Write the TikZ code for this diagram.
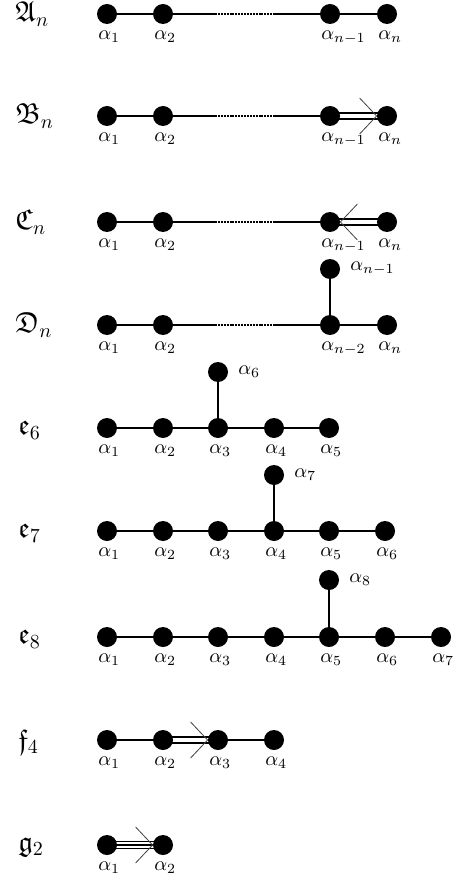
\documentclass[tikz,border=0pt]{standalone}
\usepackage{amssymb}
\usetikzlibrary{backgrounds}
\begin{document}
\begin{tikzpicture}[x=0.5pt,y=-0.5pt,
  dot/.style={circle,fill=black,inner sep=0pt,minimum size=10pt},
  edge/.style={line width=0.9pt},
  dbl/.style={line width=0.8pt,double=white,double distance=2pt},
  dotseg/.style={line width=1pt,dash pattern=on 1pt off 0.45pt},
  chev/.style={line width=0.4pt,black!75},
  lab/.style={anchor=north west,inner sep=0pt},
  rlab/.style={anchor=west,inner sep=0pt},
  ttl/.style={anchor=west,inner sep=0pt,font=\Large}]
\useasboundingbox (0,0) rectangle (454,877);
% ---------- A_n ----------
\node[ttl] (tA) at (15,14) {$\mathfrak{A}_n$};
\node[dot] (A1) at (107,14) {};
\node[dot] (A2) at (163,14) {};
\node[dot] (A3) at (330,14) {};
\node[dot] (A4) at (387,14) {};
\coordinate (Ad1) at (215,14);
\coordinate (Ad2) at (275,14);
\node[lab] at ([shift={(-9,16)}]A1.center) {$\alpha_1$};
\node[lab] at ([shift={(-9,16)}]A2.center) {$\alpha_2$};
\node[lab] at ([shift={(-9,16)}]A3.center) {$\alpha_{n-1}$};
\node[lab] at ([shift={(-9,16)}]A4.center) {$\alpha_n$};
\begin{scope}[on background layer]
\draw[edge] (A1.center) -- (A2.center) -- (Ad1);
\draw[dotseg] (Ad1) -- (Ad2);
\draw[edge] (Ad2) -- (A3.center) -- (A4.center);
\end{scope}
% ---------- B_n ----------
\node[ttl] (tB) at (15,116) {$\mathfrak{B}_n$};
\node[dot] (B1) at (107,116) {};
\node[dot] (B2) at (163,116) {};
\node[dot] (B3) at (330,116) {};
\node[dot] (B4) at (387,116) {};
\coordinate (Bd1) at (215,116);
\coordinate (Bd2) at (275,116);
\node[lab] at ([shift={(-9,16)}]B1.center) {$\alpha_1$};
\node[lab] at ([shift={(-9,16)}]B2.center) {$\alpha_2$};
\node[lab] at ([shift={(-9,16)}]B3.center) {$\alpha_{n-1}$};
\node[lab] at ([shift={(-9,16)}]B4.center) {$\alpha_n$};
\begin{scope}[on background layer]
\draw[edge] (B1.center) -- (B2.center) -- (Bd1);
\draw[dotseg] (Bd1) -- (Bd2);
\draw[edge] (Bd2) -- (B3.center);
\draw[dbl] (B3.center) -- (B4.center);
\end{scope}
\draw[chev] ([shift={(-17,-18)}]B4.west) -- (B4.west) -- ([shift={(-17,18)}]B4.west);
% ---------- C_n ----------
\node[ttl] (tC) at (15,222) {$\mathfrak{C}_n$};
\node[dot] (C1) at (107,222) {};
\node[dot] (C2) at (163,222) {};
\node[dot] (C3) at (330,222) {};
\node[dot] (C4) at (387,222) {};
\coordinate (Cd1) at (215,222);
\coordinate (Cd2) at (275,222);
\node[lab] at ([shift={(-9,16)}]C1.center) {$\alpha_1$};
\node[lab] at ([shift={(-9,16)}]C2.center) {$\alpha_2$};
\node[lab] at ([shift={(-9,16)}]C3.center) {$\alpha_{n-1}$};
\node[lab] at ([shift={(-9,16)}]C4.center) {$\alpha_n$};
\begin{scope}[on background layer]
\draw[edge] (C1.center) -- (C2.center) -- (Cd1);
\draw[dotseg] (Cd1) -- (Cd2);
\draw[edge] (Cd2) -- (C3.center);
\draw[dbl] (C3.center) -- (C4.center);
\end{scope}
\draw[chev] ([shift={(17,-18)}]C3.east) -- (C3.east) -- ([shift={(17,18)}]C3.east);
% ---------- D_n ----------
\node[ttl] (tD) at (15,325) {$\mathfrak{D}_n$};
\node[dot] (D1) at (107,325) {};
\node[dot] (D2) at (163,325) {};
\node[dot] (D3) at (330,325) {};
\node[dot] (D4) at (387,325) {};
\node[dot] (D5) at (330,269) {};
\coordinate (Dd1) at (215,325);
\coordinate (Dd2) at (275,325);
\node[lab] at ([shift={(-9,16)}]D1.center) {$\alpha_1$};
\node[lab] at ([shift={(-9,16)}]D2.center) {$\alpha_2$};
\node[lab] at ([shift={(-9,16)}]D3.center) {$\alpha_{n-2}$};
\node[lab] at ([shift={(-9,16)}]D4.center) {$\alpha_n$};
\node[rlab] at ([shift={(20,0)}]D5.center) {$\alpha_{n-1}$};
\begin{scope}[on background layer]
\draw[edge] (D1.center) -- (D2.center) -- (Dd1);
\draw[dotseg] (Dd1) -- (Dd2);
\draw[edge] (Dd2) -- (D3.center) -- (D4.center);
\draw[edge] (D3.center) -- (D5.center);
\end{scope}
% ---------- e_6 ----------
\node[ttl] (tE6) at (18,430) {$\mathfrak{e}_6$};
\foreach \i/\x in {1/107,2/163,3/218,4/274,5/329}{
  \node[dot] (E6\i) at (\x,428) {};
  \node[lab] at ([shift={(-9,16)}]E6\i.center) {$\alpha_{\i}$};
}
\node[dot] (E66) at (218,372) {};
\node[rlab] at ([shift={(20,0)}]E66.center) {$\alpha_6$};
\begin{scope}[on background layer]
\draw[edge] (E61.center) -- (E62.center) -- (E63.center) -- (E64.center) -- (E65.center);
\draw[edge] (E63.center) -- (E66.center);
\end{scope}
% ---------- e_7 ----------
\node[ttl] (tE7) at (18,533) {$\mathfrak{e}_7$};
\foreach \i/\x in {1/107,2/163,3/218,4/274,5/329,6/385}{
  \node[dot] (E7\i) at (\x,531) {};
  \node[lab] at ([shift={(-9,16)}]E7\i.center) {$\alpha_{\i}$};
}
\node[dot] (E77) at (274,475) {};
\node[rlab] at ([shift={(20,0)}]E77.center) {$\alpha_7$};
\begin{scope}[on background layer]
\draw[edge] (E71.center) -- (E72.center) -- (E73.center) -- (E74.center) -- (E75.center) -- (E76.center);
\draw[edge] (E74.center) -- (E77.center);
\end{scope}
% ---------- e_8 ----------
\node[ttl] (tE8) at (18,639) {$\mathfrak{e}_8$};
\foreach \i/\x in {1/107,2/163,3/218,4/274,5/329,6/385,7/441}{
  \node[dot] (E8\i) at (\x,637) {};
  \node[lab] at ([shift={(-9,16)}]E8\i.center) {$\alpha_{\i}$};
}
\node[dot] (E88) at (329,580) {};
\node[rlab] at ([shift={(20,0)}]E88.center) {$\alpha_8$};
\begin{scope}[on background layer]
\draw[edge] (E81.center) -- (E82.center) -- (E83.center) -- (E84.center) -- (E85.center) -- (E86.center) -- (E87.center);
\draw[edge] (E85.center) -- (E88.center);
\end{scope}
% ---------- f_4 ----------
\node[ttl] (tF) at (18,742) {$\mathfrak{f}_4$};
\foreach \i/\x in {1/107,2/163,3/218,4/274}{
  \node[dot] (F\i) at (\x,740) {};
  \node[lab] at ([shift={(-9,16)}]F\i.center) {$\alpha_{\i}$};
}
\begin{scope}[on background layer]
\draw[edge] (F1.center) -- (F2.center);
\draw[dbl] (F2.center) -- (F3.center);
\draw[edge] (F3.center) -- (F4.center);
\end{scope}
\draw[chev] ([shift={(-17,-18)}]F3.west) -- (F3.west) -- ([shift={(-17,18)}]F3.west);
% ---------- g_2 ----------
\node[ttl] (tG) at (18,847) {$\mathfrak{g}_2$};
\foreach \i/\x in {1/107,2/163}{
  \node[dot] (G\i) at (\x,845) {};
  \node[lab] at ([shift={(-9,16)}]G\i.center) {$\alpha_{\i}$};
}
\begin{scope}[on background layer]
\draw[line width=0.75pt,double=white,double distance=2.6pt] (G1.center) -- (G2.center);
\draw[line width=0.75pt] (G1.center) -- (G2.center);
\end{scope}
\draw[chev] ([shift={(-17,-18)}]G2.west) -- (G2.west) -- ([shift={(-17,18)}]G2.west);
\end{tikzpicture}
\end{document}
